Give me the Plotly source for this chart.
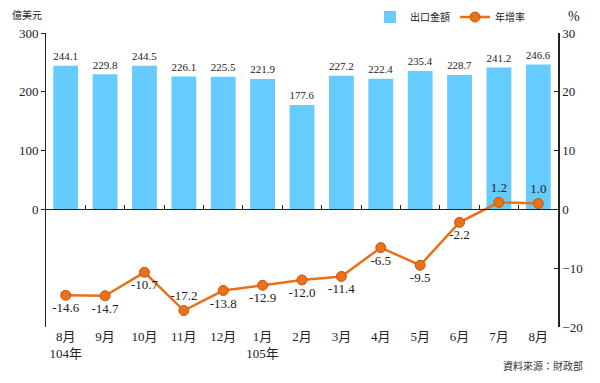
import plotly.graph_objects as go

categories = ["8月<br>104年", "9月", "10月", "11月", "12月", "1月<br>105年", "2月",
              "3月", "4月", "5月", "6月", "7月", "8月"]
exports = [244.1, 229.8, 244.5, 226.1, 225.5, 221.9, 177.6, 227.2, 222.4, 235.4, 228.7, 241.2, 246.6]
growth = [-14.6, -14.7, -10.7, -17.2, -13.8, -12.9, -12.0, -11.4, -6.5, -9.5, -2.2, 1.2, 1.0]
growth_label_pos = ["bottom center", "bottom center", "bottom center", "top center",
                    "bottom center", "bottom center", "bottom center", "bottom center",
                    "bottom center", "bottom center", "bottom center", "top center", "top center"]

SERIF = "Liberation Serif, Noto Sans CJK TC, serif"
CJK = "Noto Sans CJK TC, sans-serif"
BAR_COLOR = "#66CCFF"
LINE_COLOR = "#E8711A"

# page body has an 8px default margin, so the figure is sized to fit inside it
W, H = 592, 375
ML, MR, MT, MB = 38, 42, 25, 56
PW, PH = W - ML - MR, H - MT - MB

fig = go.Figure()
fig.add_trace(go.Bar(
    x=categories, y=exports, name="出口金額",
    marker=dict(color=BAR_COLOR, line=dict(width=0)),
    text=[f"{v:.1f}" for v in exports], textposition="outside",
    textfont=dict(family=SERIF, size=13, color="#222"),
    cliponaxis=False, yaxis="y", xaxis="x",
))
fig.add_trace(go.Scatter(
    x=categories, y=growth, name="年增率", mode="lines+markers+text",
    line=dict(color=LINE_COLOR, width=2.5),
    marker=dict(color=LINE_COLOR, size=10, line=dict(color="#C8550E", width=1)),
    text=[f"{v:.1f}" for v in growth], textposition=growth_label_pos,
    textfont=dict(family=SERIF, size=13, color="#222"),
    cliponaxis=False, yaxis="y2", xaxis="x",
))
# invisible trace to carry the zero-line axis with boundary ticks
fig.add_trace(go.Scatter(
    x=categories, y=[0] * len(categories), mode="markers",
    marker=dict(opacity=0), showlegend=False, hoverinfo="skip",
    xaxis="x2", yaxis="y",
))

fig.update_layout(
    width=W, height=H,
    margin=dict(l=ML, r=MR, t=MT, b=MB, autoexpand=False),
    paper_bgcolor="white", plot_bgcolor="white",
    bargap=0.37,
    showlegend=True,
    legend=dict(orientation="h", x=(530 - 8) / W, xanchor="right", xref="container",
                y=1 - (17 - 8) / H, yanchor="middle", yref="container",
                font=dict(family=CJK, size=10, color="#222"),
                bgcolor="rgba(0,0,0,0)", traceorder="normal"),
    xaxis=dict(type="category", categoryorder="array", categoryarray=categories,
               range=[-0.5, 12.5], showline=False, ticks="", showgrid=False,
               ticklabelstandoff=0,
               tickfont=dict(family=SERIF, size=13, color="#222")),
    xaxis2=dict(type="category", categoryorder="array", categoryarray=categories,
                range=[-0.5, 12.5], overlaying="x", anchor="free", position=0.4,
                side="bottom", showline=True, linecolor="#222", linewidth=1,
                ticks="inside", tickson="boundaries", ticklen=4, tickcolor="#222",
                showticklabels=False, showgrid=False),
    yaxis=dict(range=[-200, 300], tickvals=[0, 100, 200, 300], showgrid=False,
               showline=True, linecolor="#222", linewidth=1, ticks="outside",
               ticklen=4, tickcolor="#222", zeroline=False,
               tickfont=dict(family=SERIF, size=13, color="#222")),
    yaxis2=dict(range=[-20, 30], tickvals=[-20, -10, 0, 10, 20, 30], overlaying="y",
                side="right", showgrid=False, showline=True, linecolor="#222",
                linewidth=1.5, ticks="inside", ticklen=4, tickcolor="#222",
                zeroline=False, tickfont=dict(family=SERIF, size=13, color="#222")),
)
fig.add_annotation(text="億美元", xref="paper", yref="paper", x=-36 / PW, y=1 + 18 / PH,
                   xanchor="left", yanchor="middle", showarrow=False,
                   font=dict(family=CJK, size=10, color="#222"))
fig.add_annotation(text="%", xref="paper", yref="paper", x=1 + 16 / PW, y=1 + 17 / PH,
                   xanchor="center", yanchor="middle", showarrow=False,
                   font=dict(family=SERIF, size=14, color="#222"))
fig.add_annotation(text="資料來源：財政部", xref="paper", yref="paper", x=1 + 27 / PW,
                   y=-38 / PH, xanchor="right", yanchor="middle", showarrow=False,
                   font=dict(family=CJK, size=10, color="#333"))

fig.write_html("out.html")
